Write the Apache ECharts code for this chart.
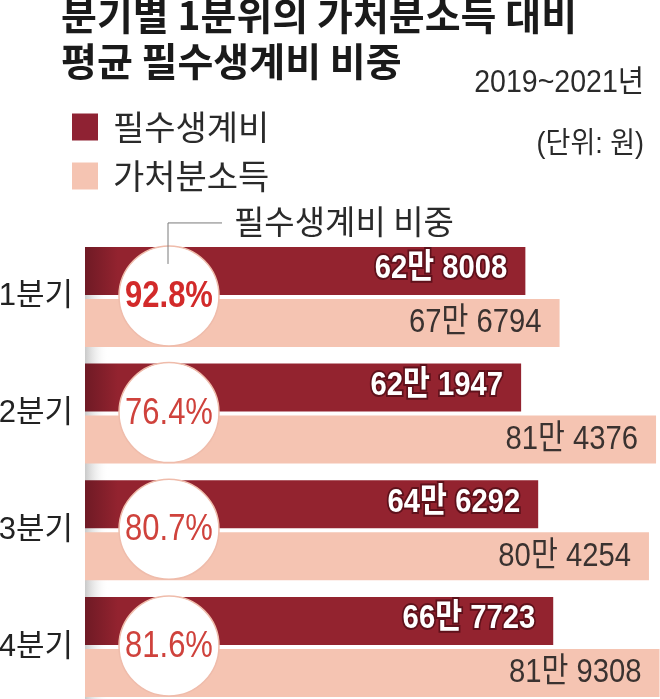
<!DOCTYPE html>
<html>
<head>
<meta charset="utf-8">
<script src="https://cdn.jsdelivr.net/npm/echarts@6/dist/echarts.min.js"></script>
<style>
html,body{margin:0;padding:0;background:#fff;}
#chart{width:660px;height:699px;}
</style>
</head>
<body>
<div id="chart"></div>
<script>
const categories = ['1분기', '2분기', '3분기', '4분기'];
const essentialCost = [628008, 621947, 646292, 667723];
const disposableIncome = [676794, 814376, 804254, 819308];
const essentialShare = [92.8, 76.4, 80.7, 81.6];
const seriesNames = ['필수생계비', '가처분소득'];

const LAT = "'Liberation Sans', 'Noto Sans CJK KR', sans-serif";
const KR = "'Noto Sans CJK KR', sans-serif";
const DARK = '#93232f';
const LIGHT = '#f5c4b2';

function won(v) {
  return Math.floor(v / 10000) + '만 ' + String(v % 10000).padStart(4, '0');
}

const chart = echarts.init(document.getElementById('chart'), null, {renderer: 'canvas'});

chart.setOption({
  backgroundColor: '#ffffff',
  animation: false,
  title: [
    {
      text: '분기별 1분위의 가처분소득 대비\n평균 필수생계비 비중',
      left: 61, top: -8, padding: 0,
      textStyle: {fontFamily: KR, fontSize: 39, fontWeight: 'bold', color: '#1a1a1a', lineHeight: 46}
    }
  ],
  legend: {
    orient: 'vertical',
    left: 72, top: 110, padding: 0,
    icon: 'rect',
    itemWidth: 26, itemHeight: 27, itemGap: 15,
    selectedMode: false,
    data: [
      {name: seriesNames[0], itemStyle: {color: '#8f2233'}},
      {name: seriesNames[1], itemStyle: {color: LIGHT}}
    ],
    textStyle: {fontFamily: KR, fontSize: 34, color: '#2a2a2a', padding: [0, 0, 0, 10], lineHeight: 27}
  },
  graphic: [
    {
      type: 'rect', z: 0,
      shape: {x: 85, y: 252, width: 24, height: 460},
      style: {
        fill: new echarts.graphic.LinearGradient(0, 0, 1, 0, [
          {offset: 0, color: '#c9c9c9'},
          {offset: 1, color: 'rgba(255,255,255,0)'}
        ])
      }
    },
    {
      type: 'text', x: 644, y: 83, scaleX: 0.92,
      style: {text: '2019~2021년', x: 0, y: 0, align: 'right', verticalAlign: 'middle',
              fill: '#2a2a2a', font: '31px ' + LAT}
    },
    {
      type: 'text', x: 644, y: 145, scaleX: 0.93,
      style: {text: '(단위: 원)', x: 0, y: 0, align: 'right', verticalAlign: 'middle',
              fill: '#2a2a2a', font: '29px ' + LAT}
    }
  ],
  grid: {left: 85, top: 238.6, width: 575, height: 466.7, containLabel: false, outerBoundsMode: 'none'},
  xAxis: {type: 'value', min: 0, max: 820000, show: false},
  yAxis: {
    type: 'category', data: categories, inverse: true,
    axisLine: {show: false}, axisTick: {show: false}, splitLine: {show: false},
    axisLabel: {fontFamily: LAT, fontSize: 31, color: '#222', margin: 12}
  },
  series: [
    {
      name: seriesNames[0], type: 'bar', data: essentialCost,
      barWidth: 48, barGap: '8.3%', z: 2,
      itemStyle: {
        color: {
          type: 'linear', x: 85, y: 0, x2: 118, y2: 0, global: true,
          colorStops: [{offset: 0, color: '#6f1a25'}, {offset: 1, color: DARK}]
        }
      }
    },
    {
      name: seriesNames[1], type: 'bar', data: disposableIncome,
      barWidth: 48, barGap: '8.3%', z: 2,
      itemStyle: {color: LIGHT}
    },
    {
      name: 'values', type: 'custom', z: 4,
      data: categories.map((c, i) => [essentialCost[i], disposableIncome[i], i]),
      encode: {x: [0, 1], y: 2},
      renderItem: function (params, api) {
        const idx = api.value(2);
        const cy = api.coord([0, idx])[1];
        const xd = api.coord([api.value(0), idx])[0];
        const xl = api.coord([api.value(1), idx])[0];
        return {
          type: 'group',
          children: [
            {
              type: 'text', x: xd - 18, y: cy - 28, scaleX: 0.86,
              style: {
                text: won(api.value(0)), x: 0, y: 0, align: 'right', verticalAlign: 'middle',
                fill: '#ffffff', stroke: '#5e111b', lineWidth: 4,
                font: 'bold 34px ' + LAT
              }
            },
            {
              type: 'text', x: xl - 18, y: cy + 26, scaleX: 0.86,
              style: {
                text: won(api.value(1)), x: 0, y: 0, align: 'right', verticalAlign: 'middle',
                fill: '#3a3230', font: '34px ' + LAT
              }
            }
          ]
        };
      }
    },
    {
      name: 'share', type: 'custom', z: 5,
      data: essentialShare.map((v, i) => [v, i]),
      encode: {x: 0, y: 1},
      renderItem: function (params, api) {
        const c = api.coord([0, api.value(1)]);
        const cx = c[0] + 84, cy = c[1] - 1;
        const ratio = api.value(0);
        const bold = params.dataIndex === 0;
        const children = [
          {
            type: 'circle', shape: {cx: cx, cy: cy, r: 50},
            style: {fill: '#ffffff', stroke: '#efbcab', lineWidth: 1.5}
          },
          {
            type: 'text', x: cx, y: cy + 1, scaleX: 0.86,
            style: {
              text: ratio.toFixed(1) + '%', x: 0, y: 0,
              align: 'center', verticalAlign: 'middle',
              fill: bold ? '#d22a2a' : '#cf423c',
              font: (bold ? 'bold ' : '') + '36px ' + LAT
            }
          }
        ];
        if (params.dataIndex === 0) {
          children.push({
            type: 'polyline',
            shape: {points: [[cx - 1, cy - 32], [cx - 1, cy - 73], [cx + 53, cy - 73]]},
            style: {stroke: '#7a7a7a', lineWidth: 1, fill: null}
          });
          children.push({
            type: 'text',
            style: {
              text: '필수생계비 비중', x: cx + 65, y: cy - 74,
              align: 'left', verticalAlign: 'middle',
              fill: '#2a2a2a', font: '33px ' + KR
            }
          });
        }
        return {type: 'group', children: children};
      }
    }
  ]
});
</script>
</body>
</html>
